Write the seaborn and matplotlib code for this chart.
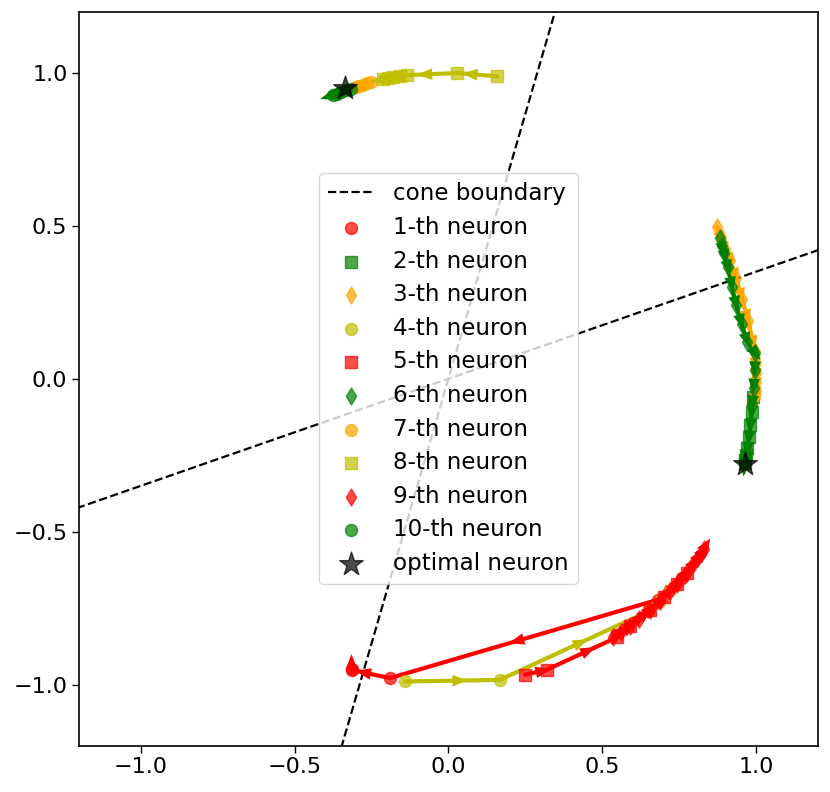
import numpy as np
import matplotlib
matplotlib.use("Agg")
import matplotlib.pyplot as plt
import seaborn as sns

sns.set_style("ticks")
plt.rcParams["font.family"] = ["DejaVu Sans"]
plt.rcParams["text.color"] = "black"
plt.rcParams["axes.edgecolor"] = "black"
plt.rcParams["xtick.color"] = "black"
plt.rcParams["ytick.color"] = "black"

# cone boundary directions (degrees)
cone_angles = [19.3, 73.9]

# neuron trajectories
n1_x = [0.760, 0.680, -0.190, -0.315, -0.315]
n1_y = [-0.650, -0.723, -0.979, -0.952, -0.949]
n2_x = [0.990, 0.986, 0.982, 0.977, 0.972, 0.968, 0.965, 0.964]
n2_y = [-0.060, -0.110, -0.150, -0.190, -0.225, -0.250, -0.265, -0.275]
n3_x = [0.872, 0.885, 0.900, 0.915, 0.935, 0.955, 0.975, 0.996, 0.999, 1.000, 1.000, 0.999, 0.998]
n3_y = [0.498, 0.465, 0.425, 0.390, 0.330, 0.260, 0.190, 0.090, 0.050, 0.020, -0.010, -0.040, -0.060]
n4_x = [-0.141, 0.167, 0.649, 0.688, 0.720]
n4_y = [-0.990, -0.985, -0.761, -0.728, -0.690]
n5_x = [0.249, 0.319, 0.547, 0.590, 0.655, 0.700, 0.742, 0.774]
n5_y = [-0.968, -0.952, -0.846, -0.810, -0.756, -0.715, -0.672, -0.636]
n6_x = [0.882, 0.890, 0.897, 0.909, 0.922, 0.936, 0.953, 0.972, 0.998, 0.996, 0.992, 0.988]
n6_y = [0.460, 0.435, 0.410, 0.365, 0.300, 0.240, 0.180, 0.120, 0.084, 0.030, -0.030, -0.080]
n7_x = [-0.252, -0.265, -0.278, -0.290, -0.302]
n7_y = [0.970, 0.966, 0.962, 0.958, 0.954]
n8_x = [0.159, 0.029, -0.134, -0.158, -0.180, -0.196, -0.212]
n8_y = [0.989, 1.000, 0.993, 0.989, 0.986, 0.983, 0.980]
n9_x = [0.535, 0.560, 0.590, 0.620, 0.655, 0.688, 0.720, 0.742, 0.774, 0.795, 0.807, 0.820, 0.830]
n9_y = [-0.845, -0.828, -0.807, -0.785, -0.756, -0.726, -0.694, -0.670, -0.633, -0.606, -0.590, -0.572, -0.556]
n10_x = [-0.318, -0.333, -0.348, -0.362, -0.375]
n10_y = [0.948, 0.943, 0.937, 0.932, 0.928]

opt_x = [-0.336, 0.964]
opt_y = [0.951, -0.279]

trajs = [(n1_x, n1_y), (n2_x, n2_y), (n3_x, n3_y), (n4_x, n4_y), (n5_x, n5_y),
         (n6_x, n6_y), (n7_x, n7_y), (n8_x, n8_y), (n9_x, n9_y), (n10_x, n10_y)]
colors = ["r", "g", "orange", "y"]
markers = ["o", "s", "d"]

fig = plt.figure(figsize=(8.3, 7.92), dpi=100)
ax = fig.add_axes([0.0955, 0.0585, 0.8895, 0.9265])

for k, ang in enumerate(cone_angles):
    c, s = np.cos(np.radians(ang)), np.sin(np.radians(ang))
    sns.lineplot(x=[-2 * c, 2 * c], y=[-2 * s, 2 * s], color="k", linestyle="--",
                 linewidth=1.6, sort=False, estimator=None, ax=ax,
                 label="cone boundary" if k == 0 else None)

for i, (xs, ys) in enumerate(trajs):
    col = colors[i % 4]
    sns.scatterplot(x=xs, y=ys, color=col, marker=markers[i % 3], s=75, alpha=0.7,
                    edgecolor=col, linewidth=1, label="%d-th neuron" % (i + 1),
                    ax=ax, zorder=3)
    sns.lineplot(x=xs, y=ys, color=col, linewidth=3, sort=False, estimator=None,
                 ax=ax, zorder=2)
    for j in range(len(xs) - 1):
        dx, dy = xs[j + 1] - xs[j], ys[j + 1] - ys[j]
        d = np.hypot(dx, dy)
        if d == 0:
            continue
        xm, ym = xs[j] + dx / 2, ys[j] + dy / 2
        ax.arrow(xm, ym, dx / d * 1e-4, dy / d * 1e-4, head_width=0.038,
                 head_length=0.05, fc=col, ec=col, lw=0, zorder=3)

sns.scatterplot(x=opt_x, y=opt_y, color="k", marker="*", s=320, alpha=0.7,
                edgecolor="k", linewidth=1, label="optimal neuron", ax=ax, zorder=4)

ax.set_xlim(-1.2, 1.2)
ax.set_ylim(-1.2, 1.2)
ax.set_xticks([-1.0, -0.5, 0.0, 0.5, 1.0])
ax.set_yticks([-1.0, -0.5, 0.0, 0.5, 1.0])
ax.tick_params(labelsize=16, length=5, width=1)
for sp in ax.spines.values():
    sp.set_visible(True)
    sp.set_linewidth(1.2)
ax.set_xlabel("")
ax.set_ylabel("")
ax.legend(loc="center", fontsize=16.6, framealpha=0.8, labelspacing=0.46)

fig.savefig("out.png", dpi=100)
